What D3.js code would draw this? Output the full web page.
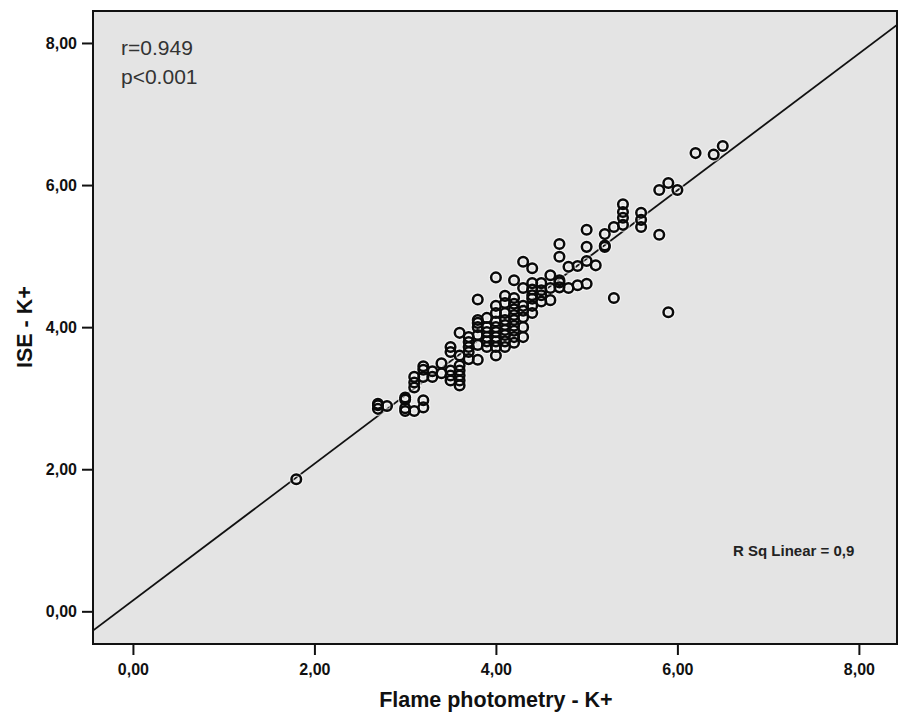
<html>
<head>
<meta charset="utf-8">
<script src="https://cdnjs.cloudflare.com/ajax/libs/d3/7.8.5/d3.min.js"></script>
<style>
  body { margin: 0; background: #fff; }
  svg { display: block; font-family: "Liberation Sans", Arial, sans-serif; }
</style>
</head>
<body>
<script>
// Flame photometry K+ (x) against ISE K+ (y), one entry per sample
var flame = [
  1.8,
  2.7, 2.7, 2.7, 2.8,
  3.0, 3.0, 3.0, 3.0,
  3.1, 3.1, 3.1, 3.1,
  3.2, 3.2, 3.2, 3.2, 3.2,
  3.3, 3.3, 3.4, 3.4,
  3.5, 3.5, 3.5, 3.5, 3.5,
  3.6, 3.6, 3.6, 3.6, 3.6, 3.6, 3.6,
  3.7, 3.7, 3.7, 3.7, 3.7,
  3.8, 3.8, 3.8, 3.8, 3.8, 3.8, 3.8,
  3.9, 3.9, 3.9, 3.9, 3.9, 3.9,
  4.0, 4.0, 4.0, 4.0, 4.0, 4.0, 4.0, 4.0, 4.0, 4.0,
  4.1, 4.1, 4.1, 4.1, 4.1, 4.1, 4.1, 4.1, 4.1,
  4.2, 4.2, 4.2, 4.2, 4.2, 4.2, 4.2, 4.2, 4.2, 4.2,
  4.3, 4.3, 4.3, 4.3, 4.3, 4.3, 4.3,
  4.4, 4.4, 4.4, 4.4, 4.4, 4.4, 4.4,
  4.5, 4.5, 4.5, 4.5,
  4.6, 4.6, 4.6,
  4.7, 4.7, 4.7, 4.7, 4.7,
  4.8, 4.8, 4.9, 4.9,
  5.0, 5.0, 5.0, 5.0,
  5.1,
  5.2, 5.2, 5.2,
  5.3, 5.3,
  5.4, 5.4, 5.4, 5.4,
  5.6, 5.6, 5.6,
  5.8, 5.8, 5.9, 5.9, 6.0,
  6.2, 6.4, 6.5
];
var ise = [
  1.86,
  2.85, 2.90, 2.92, 2.89,
  2.82, 2.86, 2.98, 3.01,
  2.82, 3.15, 3.22, 3.30,
  2.87, 2.97, 3.30, 3.40, 3.45,
  3.30, 3.38, 3.35, 3.49,
  3.25, 3.32, 3.39, 3.65, 3.72,
  3.18, 3.25, 3.32, 3.39, 3.46, 3.60, 3.92,
  3.55, 3.65, 3.72, 3.79, 3.86,
  3.54, 3.75, 3.89, 4.00, 4.06, 4.10, 4.39,
  3.72, 3.80, 3.86, 3.93, 4.00, 4.13,
  3.60, 3.72, 3.80, 3.86, 3.93, 4.00, 4.08, 4.20, 4.30, 4.70,
  3.72, 3.80, 3.89, 3.96, 4.03, 4.10, 4.20, 4.34, 4.44,
  3.78, 3.86, 3.95, 4.02, 4.10, 4.17, 4.25, 4.33, 4.41, 4.66,
  3.86, 4.00, 4.14, 4.23, 4.30, 4.55, 4.92,
  4.20, 4.30, 4.40, 4.45, 4.53, 4.62, 4.83,
  4.36, 4.45, 4.52, 4.62,
  4.38, 4.55, 4.73,
  4.56, 4.63, 4.66, 4.99, 5.17,
  4.55, 4.85, 4.59, 4.86,
  4.61, 4.93, 5.13, 5.37,
  4.87,
  5.13, 5.15, 5.31,
  4.41, 5.41,
  5.44, 5.54, 5.62, 5.73,
  5.41, 5.51, 5.61,
  5.30, 5.93, 4.21, 6.03, 5.93,
  6.45, 6.43, 6.55
];

// fitted line (SPSS "R Sq Linear")
var fitSlope = 0.962;
var fitIntercept = 0.153;

var tickValues = [0, 2, 4, 6, 8];
var xTitle = "Flame photometry - K+";
var yTitle = "ISE - K+";
var statLines = ["r=0.949", "p<0.001"];
var rsqLabel = "R Sq Linear = 0,9";

var W = 901, H = 713;
var plotL = 93, plotR = 897, plotT = 11, plotB = 644;

var svg = d3.select("body").append("svg").attr("width", W).attr("height", H);

var x = d3.scaleLinear().domain([-0.44, 8.42]).range([plotL, plotR]);
var y = d3.scaleLinear().domain([-0.46, 8.45]).range([plotB, plotT]);

function fmt(d) { return d3.format(".2f")(d).replace(".", ","); }

svg.append("rect")
  .attr("x", plotL).attr("y", plotT)
  .attr("width", plotR - plotL).attr("height", plotB - plotT)
  .style("fill", "#e4e4e4");

svg.append("clipPath").attr("id", "clip")
  .append("rect").attr("x", plotL).attr("y", plotT)
  .attr("width", plotR - plotL).attr("height", plotB - plotT);

// regression line
var xd = x.domain();
svg.append("line")
  .attr("clip-path", "url(#clip)")
  .attr("x1", x(xd[0])).attr("y1", y(fitIntercept + fitSlope * xd[0]))
  .attr("x2", x(xd[1])).attr("y2", y(fitIntercept + fitSlope * xd[1]))
  .style("stroke", "#111").style("stroke-width", 1.8);

var pts = flame.map(function (v, i) { return [v, ise[i]]; });

var g = svg.append("g").attr("clip-path", "url(#clip)");
g.selectAll("circle.halo").data(pts).enter().append("circle")
  .attr("class", "halo")
  .attr("cx", function (d) { return x(d[0]); })
  .attr("cy", function (d) { return y(d[1]); })
  .attr("r", 4.8)
  .style("fill", "none").style("stroke", "#fff").style("stroke-width", 5).style("opacity", 0.55);
g.selectAll("circle.pt").data(pts).enter().append("circle")
  .attr("class", "pt")
  .attr("cx", function (d) { return x(d[0]); })
  .attr("cy", function (d) { return y(d[1]); })
  .attr("r", 4.8)
  .style("fill", "none").style("stroke", "#0a0a0a").style("stroke-width", 2.5);

// frame
svg.append("rect")
  .attr("x", plotL).attr("y", plotT)
  .attr("width", plotR - plotL).attr("height", plotB - plotT)
  .style("fill", "none").style("stroke", "#111").style("stroke-width", 2);

var xAxis = d3.axisBottom(x).tickValues(tickValues).tickFormat(fmt).tickSize(11).tickSizeOuter(0).tickPadding(9);
var gx = svg.append("g").attr("transform", "translate(0," + plotB + ")").call(xAxis);

var yAxis = d3.axisLeft(y).tickValues(tickValues).tickFormat(fmt).tickSize(11).tickSizeOuter(0).tickPadding(5);
var gy = svg.append("g").attr("transform", "translate(" + plotL + ",0)").call(yAxis);

[gx, gy].forEach(function (a) {
  a.select(".domain").remove();
  a.selectAll(".tick line").style("stroke", "#111").style("stroke-width", 2);
  a.selectAll(".tick text")
    .style("font-family", "'Liberation Sans', Arial, sans-serif")
    .style("font-size", "16px").style("font-weight", "bold").style("fill", "#111");
});

svg.append("text")
  .attr("x", x(4)).attr("y", 707)
  .attr("text-anchor", "middle")
  .style("font-size", "21.5px").style("font-weight", "bold").style("fill", "#111")
  .text(xTitle);

svg.append("text")
  .attr("transform", "translate(32," + y(4) + ") rotate(-90)")
  .attr("text-anchor", "middle")
  .style("font-size", "21.5px").style("font-weight", "bold").style("fill", "#111")
  .text(yTitle);

statLines.forEach(function (s, i) {
  svg.append("text")
    .attr("x", 121).attr("y", 55 + i * 28.5)
    .style("font-size", "21px").style("fill", "#333")
    .text(s);
});

svg.append("text")
  .attr("x", 733).attr("y", 556)
  .style("font-size", "15px").style("font-weight", "bold").style("fill", "#222")
  .text(rsqLabel);
</script>
</body>
</html>
